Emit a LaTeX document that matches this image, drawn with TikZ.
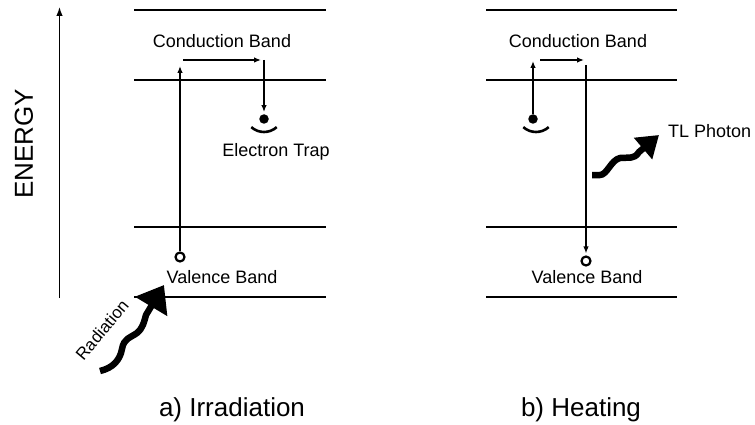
\documentclass[tikz,border=0pt]{standalone}
\usepackage{fontspec}
\setmainfont{Liberation Sans}
\usetikzlibrary{arrows.meta}
\begin{document}
\begin{tikzpicture}[x=1pt,y=-1pt,
  band/.style={line width=2.6pt},
  thinarr/.style={line width=1.3pt,-{Latex[length=7pt,width=5.5pt]}},
  lbl/.style={font=\fontsize{18}{20}\selectfont,inner sep=0pt},
  captxt/.style={font=\fontsize{26}{28}\selectfont,inner sep=0pt},
  hole/.style={circle,draw,line width=2.2pt,minimum size=9pt,inner sep=0pt},
  elec/.style={circle,fill,minimum size=9.5pt,inner sep=0pt},
  trap/.style={line width=2.6pt},
  wave/.style={line width=6.5pt,line cap=butt,line join=round},
]
\useasboundingbox (0,0) rectangle (755,425);
% energy axis
\coordinate (ax0) at (59.5,298);
\coordinate (ax1) at (59.5,7);
\draw[line width=1.3pt,-{Latex[length=9pt,width=6.5pt]}] (ax0) -- (ax1);
\node[font=\fontsize{26}{28}\selectfont,inner sep=0pt,rotate=90] (energy) at (24,144) {ENERGY};

% ---------- panel a ----------
\foreach \yy in {10,80,227,297} \draw[band] (134,\yy) -- (326,\yy);
\node[lbl,anchor=base] (cb1) at (222,48) {Conduction Band};
\node[lbl,anchor=base] (vb1) at (222,283) {Valence Band};
\node[lbl,anchor=base] (et1) at (276,157) {Electron Trap};
\node[hole] (h1) at (180,257) {};
\node[elec] (e1) at (264,119) {};
\coordinate (a1) at (180,66);
\coordinate (b1s) at (183,60);
\coordinate (b1e) at (261,60);
\coordinate (c1) at (264,60);
\draw[thinarr] (h1.north) -- (a1);
\draw[thinarr] (b1s) -- (b1e);
\draw[thinarr,shorten >=2pt] (c1) -- (e1.north);
\draw[trap] (264,113) ++(132:19) arc[start angle=132,end angle=48,radius=19];
% radiation
\coordinate (r0) at (100,371);
\coordinate (r1) at (164,285);
\draw[wave,-{Triangle[length=25pt,width=36pt]}] (r0)
  .. controls (113,368) and (120,360) .. (122,349)
  .. controls (124,338) and (130,338) .. (137,333)
  .. controls (143,328) and (144,322) .. (146,315)
  -- (r1);
\node[font=\fontsize{17}{19}\selectfont,inner sep=0pt,rotate=50] (rad) at (102,330) {Radiation};
\node[captxt,anchor=base] (capa) at (232,416) {a) Irradiation};

% ---------- panel b ----------
\foreach \yy in {10,80,227,297} \draw[band] (486,\yy) -- (677,\yy);
\node[lbl,anchor=base] (cb2) at (578,48) {Conduction Band};
\node[lbl,anchor=base] (vb2) at (587,283) {Valence Band};
\node[lbl,anchor=base west] (tl) at (668,138) {TL Photon};
\node[elec] (e2) at (533,119) {};
\node[hole] (h2) at (586,261) {};
\coordinate (a2) at (533,61);
\coordinate (b2s) at (540,60);
\coordinate (b2e) at (584,60);
\coordinate (c2) at (586,65);
\draw[thinarr] (e2.north) -- (a2);
\draw[thinarr] (b2s) -- (b2e);
\draw[thinarr,shorten >=2pt] (c2) -- (h2.north);
\draw[trap] (536,113) ++(132:19) arc[start angle=132,end angle=48,radius=19];
% photon
\coordinate (p0) at (592,175);
\coordinate (p1) at (659,135);
\draw[wave,-{Triangle[length=21pt,width=27pt]}] (p0) -- (600,175)
  .. controls (607,175) and (611,160) .. (620,158)
  .. controls (628,157) and (634,160) .. (639,152)
  -- (p1);
\node[captxt,anchor=base] (capb) at (581,416) {b) Heating};
\end{tikzpicture}
\end{document}
